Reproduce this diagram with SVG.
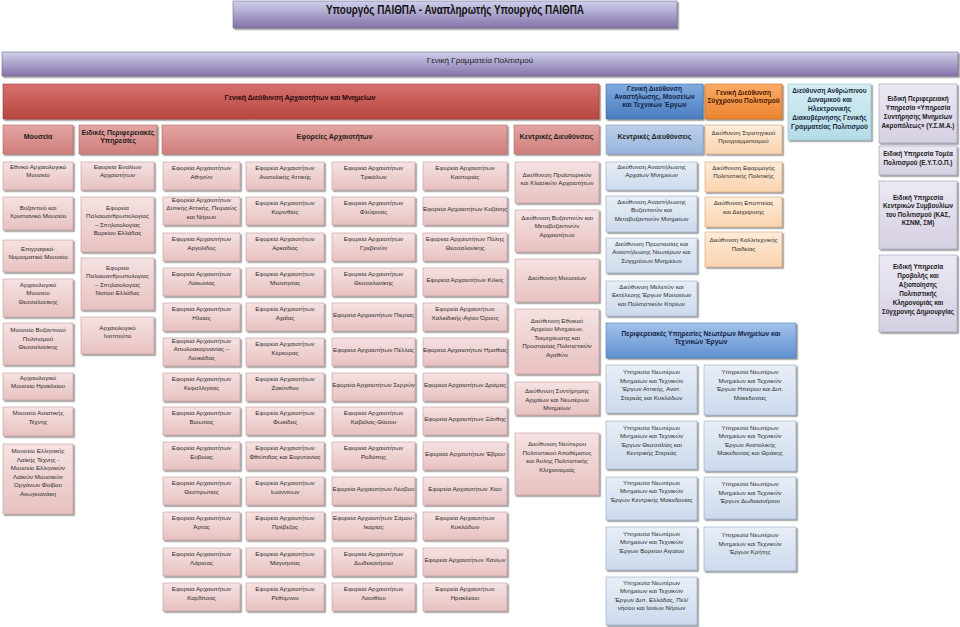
<svg xmlns="http://www.w3.org/2000/svg" width="960" height="627" viewBox="0 0 960 627">
<defs>
<linearGradient id="gPur" x1="0" y1="0" x2="0" y2="1"><stop offset="0" stop-color="#cfd1ec"/><stop offset="1" stop-color="#8572a9"/></linearGradient>
<linearGradient id="gRed" x1="0" y1="0" x2="0" y2="1"><stop offset="0" stop-color="#d6706d"/><stop offset="1" stop-color="#b8463f"/></linearGradient>
<linearGradient id="gRedH" x1="0" y1="0" x2="0" y2="1"><stop offset="0" stop-color="#e3a5a3"/><stop offset="1" stop-color="#cf7e7b"/></linearGradient>
<linearGradient id="gPink" x1="0" y1="0" x2="0" y2="1"><stop offset="0" stop-color="#f5e2e2"/><stop offset="1" stop-color="#e8c1c1"/></linearGradient>
<linearGradient id="gBlue" x1="0" y1="0" x2="0" y2="1"><stop offset="0" stop-color="#80abe0"/><stop offset="1" stop-color="#4a7dbf"/></linearGradient>
<linearGradient id="gBlueH" x1="0" y1="0" x2="0" y2="1"><stop offset="0" stop-color="#bcd0ea"/><stop offset="1" stop-color="#98b4dc"/></linearGradient>
<linearGradient id="gBlueL" x1="0" y1="0" x2="0" y2="1"><stop offset="0" stop-color="#e8eef7"/><stop offset="1" stop-color="#ccdaec"/></linearGradient>
<linearGradient id="gBlueP" x1="0" y1="0" x2="0" y2="1"><stop offset="0" stop-color="#a4c2e9"/><stop offset="1" stop-color="#5f90d0"/></linearGradient>
<linearGradient id="gOr" x1="0" y1="0" x2="0" y2="1"><stop offset="0" stop-color="#fbab66"/><stop offset="1" stop-color="#ec842f"/></linearGradient>
<linearGradient id="gOrL" x1="0" y1="0" x2="0" y2="1"><stop offset="0" stop-color="#feecd9"/><stop offset="1" stop-color="#fbd3ae"/></linearGradient>
<linearGradient id="gTeal" x1="0" y1="0" x2="0" y2="1"><stop offset="0" stop-color="#d5edf3"/><stop offset="1" stop-color="#b5dce6"/></linearGradient>
<linearGradient id="gLav" x1="0" y1="0" x2="0" y2="1"><stop offset="0" stop-color="#ece9f3"/><stop offset="1" stop-color="#d5cfe3"/></linearGradient>
<filter id="sh" x="-10%" y="-10%" width="130%" height="140%"><feDropShadow dx="1.5" dy="1.5" stdDeviation="0.7" flood-color="#000" flood-opacity="0.45"/></filter>
</defs>
<style>
text{font-family:"Liberation Sans",Arial,sans-serif;text-anchor:middle;fill:#2b2b2b}
.t{font-size:6.2px}
.h{font-size:7px;font-weight:bold;fill:#1e1e1e}
.hs{font-size:6.6px;font-weight:bold}
.hl{font-size:6.3px;font-weight:bold;fill:#222}
.bx{stroke-width:0.6;filter:url(#sh)}
.pur{fill:url(#gPur);stroke:#6e6e8e}
.red{fill:url(#gRed);stroke:#9a3b38}
.redh{fill:url(#gRedH);stroke:#b36a68}
.pk{fill:url(#gPink);stroke:#c49a9a}
.blu{fill:url(#gBlue);stroke:#3f6aa3}
.bluh{fill:url(#gBlueH);stroke:#7f9cc4}
.blul{fill:url(#gBlueL);stroke:#93a8c4}
.blup{fill:url(#gBlueP);stroke:#4d7bb8}
.or{fill:url(#gOr);stroke:#c86a20}
.orl{fill:url(#gOrL);stroke:#d0a67c}
.teal{fill:url(#gTeal);stroke:#8fbcc8}
.lav{fill:url(#gLav);stroke:#a29bb8}
.nv{fill:#14264a}
.br{fill:#4a1800}
</style>
<rect width="960" height="627" fill="#fff"/>

<g id="minister"><rect class="bx pur" x="233" y="1" width="444" height="27"/><text x="455" y="14" style="font-size:12px;font-weight:bold;fill:#111" textLength="258" lengthAdjust="spacingAndGlyphs">Υπουργός ΠΑΙΘΠΑ - Αναπληρωτής Υπουργός ΠΑΙΘΠΑ</text></g>
<g id="gen-sec"><rect class="bx pur" x="2" y="52" width="956" height="24"/><text x="480" y="63" style="font-size:8px;fill:#1a1a1a">Γενική Γραμματεία Πολιτισμού</text></g>

<g id="gd-arch"><rect class="bx red" x="3" y="84" width="596" height="35"/><text class="h" x="300" y="100" style="fill:#2a0a0a">Γενική Διεύθυνση Αρχαιοτήτων και Μνημείων</text></g>
<g id="gd-anast"><rect class="bx blu" x="606" y="84" width="97" height="35"/><text class="hs nv"><tspan x="654.5" y="90.5">Γενική Διεύθυνση</tspan><tspan x="654.5" y="98.5">Αναστήλωσης, Μουσείων</tspan><tspan x="654.5" y="106.5">και Τεχνικών Έργων</tspan></text></g>
<g id="gd-sygx"><rect class="bx or" x="705" y="84" width="77" height="35"/><text class="hs br"><tspan x="743.5" y="94.5">Γενική Διεύθυνση</tspan><tspan x="743.5" y="102.5">Σύγχρονου Πολιτισμού</tspan></text></g>
<g id="dir-hr"><rect class="bx teal" x="788" y="84" width="83" height="56"/><text class="hs" style="fill:#1c2c44"><tspan x="829.5" y="92.5">Διεύθυνση Ανθρώπινου</tspan><tspan x="829.5" y="101.5">Δυναμικού και</tspan><tspan x="829.5" y="110.5">Ηλεκτρονικής</tspan><tspan x="829.5" y="119.5">Διακυβέρνησης Γενικής</tspan><tspan x="829.5" y="128.5">Γραμματείας Πολιτισμού</tspan></text></g>
<g id="ysma"><rect class="bx lav" x="879" y="84" width="78" height="59"/><text class="hl"><tspan x="918" y="100.5">Ειδική Περιφερειακή</tspan><tspan x="918" y="109.5">Υπηρεσία «Υπηρεσία</tspan><tspan x="918" y="118.5">Συντήρησης Μνημείων</tspan><tspan x="918" y="127.5">Ακροπόλεως» (Υ.Σ.Μ.Α.)</tspan></text></g>

<g id="h-mouseia"><rect class="bx redh" x="3" y="125" width="70" height="29"/><text class="h" x="38" y="139">Μουσεία</text></g>
<g id="h-eidikes"><rect class="bx redh" x="79" y="125" width="78" height="29"/><text class="h"><tspan x="118" y="134.5">Ειδικές Περιφερειακές</tspan><tspan x="118" y="143">Υπηρεσίες</tspan></text></g>
<g id="h-eforeies"><rect class="bx redh" x="162" y="125" width="345" height="29"/><text class="h" x="334.5" y="139">Εφορείες Αρχαιοτήτων</text></g>
<g id="h-kentr-red"><rect class="bx redh" x="514" y="125" width="85" height="29"/><text class="h" x="556.5" y="139">Κεντρικές Διευθύνσεις</text></g>
<g id="h-kentr-blue"><rect class="bx bluh" x="606" y="125" width="97" height="29"/><text class="h" x="654.5" y="139">Κεντρικές Διευθύνσεις</text></g>
<g id="d-strat"><rect class="bx orl" x="705" y="125" width="77" height="29"/><text class="t"><tspan x="743.5" y="134.5">Διεύθυνση Στρατηγικού</tspan><tspan x="743.5" y="143">Προγραμματισμού</tspan></text></g>
<g id="eytop"><rect class="bx lav" x="879" y="146" width="78" height="29"/><text class="hl"><tspan x="918" y="155.5">Ειδική Υπηρεσία Τομέα</tspan><tspan x="918" y="165">Πολιτισμού (Ε.Υ.Τ.Ο.Π.)</tspan></text></g>
<g id="eyksp"><rect class="bx lav" x="879" y="181" width="78" height="68"/><text class="hl"><tspan x="918" y="199.5">Ειδική Υπηρεσία</tspan><tspan x="918" y="208">Κεντρικών Συμβουλίων</tspan><tspan x="918" y="216.5">του Πολιτισμού (ΚΑΣ,</tspan><tspan x="918" y="225">ΚΣΝΜ, ΣΜ)</tspan></text></g>
<g id="eyprov"><rect class="bx lav" x="879" y="255" width="78" height="77"/><text class="hl"><tspan x="918" y="268.5">Ειδική Υπηρεσία</tspan><tspan x="918" y="277.5">Προβολής και</tspan><tspan x="918" y="286.5">Αξιοποίησης</tspan><tspan x="918" y="295.5">Πολιτιστικής</tspan><tspan x="918" y="304.5">Κληρονομιάς και</tspan><tspan x="918" y="313.5">Σύγχρονης Δημιουργίας</tspan></text></g>

<!-- Museums -->
<g id="m1"><rect class="bx pk" x="3" y="162" width="70" height="28"/><text class="t"><tspan x="38" y="168.5">Εθνικό Αρχαιολογικό</tspan><tspan x="38" y="177">Μουσείο</tspan></text></g>
<g id="m2"><rect class="bx pk" x="3" y="197" width="70" height="33"/><text class="t"><tspan x="38" y="209.5">Βυζαντινό και</tspan><tspan x="38" y="218">Χριστιανικό Μουσείο</tspan></text></g>
<g id="m3"><rect class="bx pk" x="3" y="240" width="70" height="32"/><text class="t"><tspan x="38" y="250.5">Επιγραφικό-</tspan><tspan x="38" y="259">Νομισματικό Μουσείο</tspan></text></g>
<g id="m4"><rect class="bx pk" x="3" y="279" width="70" height="38"/><text class="t"><tspan x="38" y="286.5">Αρχαιολογικό</tspan><tspan x="38" y="295">Μουσείο</tspan><tspan x="38" y="303.5">Θεσσαλονίκης</tspan></text></g>
<g id="m5"><rect class="bx pk" x="3" y="323" width="70" height="42"/><text class="t"><tspan x="38" y="332">Μουσείο Βυζαντινού</tspan><tspan x="38" y="340.5">Πολιτισμού</tspan><tspan x="38" y="349">Θεσσαλονίκης</tspan></text></g>
<g id="m6"><rect class="bx pk" x="3" y="373" width="70" height="27"/><text class="t"><tspan x="38" y="379.5">Αρχαιολογικό</tspan><tspan x="38" y="388">Μουσείο Ηρακλείου</tspan></text></g>
<g id="m7"><rect class="bx pk" x="3" y="407" width="70" height="29"/><text class="t"><tspan x="38" y="415">Μουσείο Ασιατικής</tspan><tspan x="38" y="423.5">Τέχνης</tspan></text></g>
<g id="m8"><rect class="bx pk" x="3" y="444" width="70" height="70"/><text class="t"><tspan x="38" y="453">Μουσείο Ελληνικής</tspan><tspan x="38" y="461.5">Λαϊκής Τέχνης -</tspan><tspan x="38" y="470">Μουσείο Ελληνικών</tspan><tspan x="38" y="478.5">Λαϊκών Μουσικών</tspan><tspan x="38" y="487">Οργάνων Φοίβου</tspan><tspan x="38" y="495.5">Ανωγειανάκη</tspan></text></g>

<!-- Special regional services -->
<g id="s1"><rect class="bx pk" x="81" y="162" width="73" height="28"/><text class="t"><tspan x="117.5" y="168.5">Εφορεία Εναλίων</tspan><tspan x="117.5" y="177">Αρχαιοτήτων</tspan></text></g>
<g id="s2"><rect class="bx pk" x="81" y="197" width="73" height="55"/><text class="t"><tspan x="117.5" y="209.5">Εφορεία</tspan><tspan x="117.5" y="218">Παλαιοανθρωπολογίας</tspan><tspan x="117.5" y="226.5">– Σπηλαιολογίας</tspan><tspan x="117.5" y="235">Βορείου Ελλάδας</tspan></text></g>
<g id="s3"><rect class="bx pk" x="81" y="258" width="73" height="52"/><text class="t"><tspan x="117.5" y="269.5">Εφορεία</tspan><tspan x="117.5" y="278">Παλαιοανθρωπολογίας</tspan><tspan x="117.5" y="286.5">– Σπηλαιολογίας</tspan><tspan x="117.5" y="295">Νοτίου Ελλάδας</tspan></text></g>
<g id="s4"><rect class="bx pk" x="81" y="317" width="73" height="37"/><text class="t"><tspan x="117.5" y="329.5">Αρχαιολογικό</tspan><tspan x="117.5" y="338">Ινστιτούτο</tspan></text></g>

<!-- Ephorates column 1 -->
<g id="e-ath"><rect class="bx pk" x="163" y="162" width="77" height="28"/><text class="t"><tspan x="201.5" y="170">Εφορεία Αρχαιοτήτων</tspan><tspan x="201.5" y="178.5">Αθηνών</tspan></text></g>
<g id="e-dyt-att"><rect class="bx pk" x="163" y="197" width="77" height="28"/><text class="t"><tspan x="201.5" y="201.5">Εφορεία Αρχαιοτήτων</tspan><tspan x="201.5" y="210">Δυτικής Αττικής, Πειραιώς</tspan><tspan x="201.5" y="218.5">και Νήσων</tspan></text></g>
<g id="e-arg"><rect class="bx pk" x="163" y="233" width="77" height="28"/><text class="t"><tspan x="201.5" y="241">Εφορεία Αρχαιοτήτων</tspan><tspan x="201.5" y="249.5">Αργολίδος</tspan></text></g>
<g id="e-lak"><rect class="bx pk" x="163" y="268" width="77" height="28"/><text class="t"><tspan x="201.5" y="276">Εφορεία Αρχαιοτήτων</tspan><tspan x="201.5" y="284.5">Λακωνίας</tspan></text></g>
<g id="e-ilei"><rect class="bx pk" x="163" y="303" width="77" height="28"/><text class="t"><tspan x="201.5" y="311">Εφορεία Αρχαιοτήτων</tspan><tspan x="201.5" y="319.5">Ηλείας</tspan></text></g>
<g id="e-ait"><rect class="bx pk" x="163" y="338" width="77" height="28"/><text class="t"><tspan x="201.5" y="342.5">Εφορεία Αρχαιοτήτων</tspan><tspan x="201.5" y="351">Αιτωλοακαρνανίας –</tspan><tspan x="201.5" y="359.5">Λευκάδας</tspan></text></g>
<g id="e-kef"><rect class="bx pk" x="163" y="373" width="77" height="28"/><text class="t"><tspan x="201.5" y="381">Εφορεία Αρχαιοτήτων</tspan><tspan x="201.5" y="389.5">Κεφαλληνίας</tspan></text></g>
<g id="e-voi"><rect class="bx pk" x="163" y="407" width="77" height="28"/><text class="t"><tspan x="201.5" y="415">Εφορεία Αρχαιοτήτων</tspan><tspan x="201.5" y="423.5">Βοιωτίας</tspan></text></g>
<g id="e-evv"><rect class="bx pk" x="163" y="442" width="77" height="28"/><text class="t"><tspan x="201.5" y="450">Εφορεία Αρχαιοτήτων</tspan><tspan x="201.5" y="458.5">Ευβοίας</tspan></text></g>
<g id="e-thes"><rect class="bx pk" x="163" y="477" width="77" height="28"/><text class="t"><tspan x="201.5" y="485">Εφορεία Αρχαιοτήτων</tspan><tspan x="201.5" y="493.5">Θεσπρωτίας</tspan></text></g>
<g id="e-art"><rect class="bx pk" x="163" y="512" width="77" height="28"/><text class="t"><tspan x="201.5" y="520">Εφορεία Αρχαιοτήτων</tspan><tspan x="201.5" y="528.5">Άρτας</tspan></text></g>
<g id="e-lar"><rect class="bx pk" x="163" y="548" width="77" height="28"/><text class="t"><tspan x="201.5" y="556">Εφορεία Αρχαιοτήτων</tspan><tspan x="201.5" y="564.5">Λάρισας</tspan></text></g>
<g id="e-kar"><rect class="bx pk" x="163" y="583" width="77" height="28"/><text class="t"><tspan x="201.5" y="591">Εφορεία Αρχαιοτήτων</tspan><tspan x="201.5" y="599.5">Καρδίτσας</tspan></text></g>

<!-- Ephorates column 2 -->
<g id="e-anat-att"><rect class="bx pk" x="246" y="162" width="78" height="28"/><text class="t"><tspan x="285" y="170">Εφορεία Αρχαιοτήτων</tspan><tspan x="285" y="178.5">Ανατολικής Αττικής</tspan></text></g>
<g id="e-kor"><rect class="bx pk" x="246" y="197" width="78" height="28"/><text class="t"><tspan x="285" y="205">Εφορεία Αρχαιοτήτων</tspan><tspan x="285" y="213.5">Κορινθίας</tspan></text></g>
<g id="e-ark"><rect class="bx pk" x="246" y="233" width="78" height="28"/><text class="t"><tspan x="285" y="241">Εφορεία Αρχαιοτήτων</tspan><tspan x="285" y="249.5">Αρκαδίας</tspan></text></g>
<g id="e-mes"><rect class="bx pk" x="246" y="268" width="78" height="28"/><text class="t"><tspan x="285" y="276">Εφορεία Αρχαιοτήτων</tspan><tspan x="285" y="284.5">Μεσσηνίας</tspan></text></g>
<g id="e-ach"><rect class="bx pk" x="246" y="303" width="78" height="28"/><text class="t"><tspan x="285" y="311">Εφορεία Αρχαιοτήτων</tspan><tspan x="285" y="319.5">Αχαΐας</tspan></text></g>
<g id="e-ker"><rect class="bx pk" x="246" y="338" width="78" height="28"/><text class="t"><tspan x="285" y="346">Εφορεία Αρχαιοτήτων</tspan><tspan x="285" y="354.5">Κέρκυρας</tspan></text></g>
<g id="e-zak"><rect class="bx pk" x="246" y="373" width="78" height="28"/><text class="t"><tspan x="285" y="381">Εφορεία Αρχαιοτήτων</tspan><tspan x="285" y="389.5">Ζακύνθου</tspan></text></g>
<g id="e-fok"><rect class="bx pk" x="246" y="407" width="78" height="28"/><text class="t"><tspan x="285" y="415">Εφορεία Αρχαιοτήτων</tspan><tspan x="285" y="423.5">Φωκίδας</tspan></text></g>
<g id="e-fth"><rect class="bx pk" x="246" y="442" width="78" height="28"/><text class="t"><tspan x="285" y="450">Εφορεία Αρχαιοτήτων</tspan><tspan x="285" y="458.5">Φθιώτιδας και Ευρυτανίας</tspan></text></g>
<g id="e-ioa"><rect class="bx pk" x="246" y="477" width="78" height="28"/><text class="t"><tspan x="285" y="485">Εφορεία Αρχαιοτήτων</tspan><tspan x="285" y="493.5">Ιωαννίνων</tspan></text></g>
<g id="e-pre"><rect class="bx pk" x="246" y="512" width="78" height="28"/><text class="t"><tspan x="285" y="520">Εφορεία Αρχαιοτήτων</tspan><tspan x="285" y="528.5">Πρέβεζας</tspan></text></g>
<g id="e-mag"><rect class="bx pk" x="246" y="548" width="78" height="28"/><text class="t"><tspan x="285" y="556">Εφορεία Αρχαιοτήτων</tspan><tspan x="285" y="564.5">Μαγνησίας</tspan></text></g>
<g id="e-ret"><rect class="bx pk" x="246" y="583" width="78" height="28"/><text class="t"><tspan x="285" y="591">Εφορεία Αρχαιοτήτων</tspan><tspan x="285" y="599.5">Ρεθύμνου</tspan></text></g>

<!-- Ephorates column 3 -->
<g id="e-trik"><rect class="bx pk" x="332" y="162" width="83" height="28"/><text class="t"><tspan x="373.5" y="170">Εφορεία Αρχαιοτήτων</tspan><tspan x="373.5" y="178.5">Τρικάλων</tspan></text></g>
<g id="e-flo"><rect class="bx pk" x="332" y="197" width="83" height="28"/><text class="t"><tspan x="373.5" y="205">Εφορεία Αρχαιοτήτων</tspan><tspan x="373.5" y="213.5">Φλώρινας</tspan></text></g>
<g id="e-gre"><rect class="bx pk" x="332" y="233" width="83" height="28"/><text class="t"><tspan x="373.5" y="241">Εφορεία Αρχαιοτήτων</tspan><tspan x="373.5" y="249.5">Γρεβενών</tspan></text></g>
<g id="e-thess"><rect class="bx pk" x="332" y="268" width="83" height="28"/><text class="t"><tspan x="373.5" y="276">Εφορεία Αρχαιοτήτων</tspan><tspan x="373.5" y="284.5">Θεσσαλονίκης</tspan></text></g>
<g id="e-pie"><rect class="bx pk" x="332" y="303" width="83" height="28"/><text class="t" x="373.5" y="316.5">Εφορεία Αρχαιοτήτων Πιερίας</text></g>
<g id="e-pel"><rect class="bx pk" x="332" y="338" width="83" height="28"/><text class="t" x="373.5" y="351.5">Εφορεία Αρχαιοτήτων Πέλλας</text></g>
<g id="e-ser"><rect class="bx pk" x="332" y="373" width="83" height="28"/><text class="t" x="373.5" y="386.5">Εφορεία Αρχαιοτήτων Σερρών</text></g>
<g id="e-kav"><rect class="bx pk" x="332" y="407" width="83" height="28"/><text class="t"><tspan x="373.5" y="415">Εφορεία Αρχαιοτήτων</tspan><tspan x="373.5" y="423.5">Καβάλας-Θάσου</tspan></text></g>
<g id="e-rod"><rect class="bx pk" x="332" y="442" width="83" height="28"/><text class="t"><tspan x="373.5" y="450">Εφορεία Αρχαιοτήτων</tspan><tspan x="373.5" y="458.5">Ροδόπης</tspan></text></g>
<g id="e-les"><rect class="bx pk" x="332" y="477" width="83" height="28"/><text class="t" x="373.5" y="490.5">Εφορεία Αρχαιοτήτων Λέσβου</text></g>
<g id="e-sam"><rect class="bx pk" x="332" y="512" width="83" height="28"/><text class="t"><tspan x="373.5" y="520">Εφορεία Αρχαιοτήτων Σάμου-</tspan><tspan x="373.5" y="528.5">Ικαρίας</tspan></text></g>
<g id="e-dod"><rect class="bx pk" x="332" y="548" width="83" height="28"/><text class="t"><tspan x="373.5" y="556">Εφορεία Αρχαιοτήτων</tspan><tspan x="373.5" y="564.5">Δωδεκανήσου</tspan></text></g>
<g id="e-las"><rect class="bx pk" x="332" y="583" width="83" height="28"/><text class="t"><tspan x="373.5" y="591">Εφορεία Αρχαιοτήτων</tspan><tspan x="373.5" y="599.5">Λασιθίου</tspan></text></g>

<!-- Ephorates column 4 -->
<g id="e-kas"><rect class="bx pk" x="423" y="162" width="84" height="28"/><text class="t"><tspan x="465" y="170">Εφορεία Αρχαιοτήτων</tspan><tspan x="465" y="178.5">Καστοριάς</tspan></text></g>
<g id="e-koz"><rect class="bx pk" x="423" y="197" width="84" height="28"/><text class="t" x="465" y="210.5">Εφορεία Αρχαιοτήτων Κοζάνης</text></g>
<g id="e-pol-thes"><rect class="bx pk" x="423" y="233" width="84" height="28"/><text class="t"><tspan x="465" y="241">Εφορεία Αρχαιοτήτων Πόλης</tspan><tspan x="465" y="249.5">Θεσσαλονίκης</tspan></text></g>
<g id="e-kil"><rect class="bx pk" x="423" y="268" width="84" height="28"/><text class="t" x="465" y="281.5">Εφορεία Αρχαιοτήτων Κιλκίς</text></g>
<g id="e-chal"><rect class="bx pk" x="423" y="303" width="84" height="28"/><text class="t"><tspan x="465" y="311">Εφορεία Αρχαιοτήτων</tspan><tspan x="465" y="319.5">Χαλκιδικής-Αγίου Όρους</tspan></text></g>
<g id="e-ima"><rect class="bx pk" x="423" y="338" width="84" height="28"/><text class="t" x="465" y="351.5">Εφορεία Αρχαιοτήτων Ημαθίας</text></g>
<g id="e-dra"><rect class="bx pk" x="423" y="373" width="84" height="28"/><text class="t" x="465" y="386.5">Εφορεία Αρχαιοτήτων Δράμας</text></g>
<g id="e-xan"><rect class="bx pk" x="423" y="407" width="84" height="28"/><text class="t" x="465" y="420.5">Εφορεία Αρχαιοτήτων Ξάνθης</text></g>
<g id="e-evr"><rect class="bx pk" x="423" y="442" width="84" height="28"/><text class="t" x="465" y="455.5">Εφορεία Αρχαιοτήτων Έβρου</text></g>
<g id="e-chi"><rect class="bx pk" x="423" y="477" width="84" height="28"/><text class="t" x="465" y="490.5">Εφορεία Αρχαιοτήτων Χίου</text></g>
<g id="e-kyk"><rect class="bx pk" x="423" y="512" width="84" height="28"/><text class="t"><tspan x="465" y="520">Εφορεία Αρχαιοτήτων</tspan><tspan x="465" y="528.5">Κυκλάδων</tspan></text></g>
<g id="e-cha"><rect class="bx pk" x="423" y="548" width="84" height="28"/><text class="t" x="465" y="561.5">Εφορεία Αρχαιοτήτων Χανίων</text></g>
<g id="e-ira"><rect class="bx pk" x="423" y="583" width="84" height="28"/><text class="t"><tspan x="465" y="591">Εφορεία Αρχαιοτήτων</tspan><tspan x="465" y="599.5">Ηρακλείου</tspan></text></g>

<!-- Central directorates (antiquities) -->
<g id="k-proist"><rect class="bx pk" x="515" y="162" width="84" height="41"/><text class="t"><tspan x="557" y="176.5">Διεύθυνση Προϊστορικών</tspan><tspan x="557" y="185">και Κλασικών Αρχαιοτήτων</tspan></text></g>
<g id="k-byz"><rect class="bx pk" x="515" y="210" width="84" height="42"/><text class="t"><tspan x="557" y="219.5">Διεύθυνση Βυζαντινών και</tspan><tspan x="557" y="228">Μεταβυζαντινών</tspan><tspan x="557" y="236.5">Αρχαιοτήτων</tspan></text></g>
<g id="k-mous"><rect class="bx pk" x="515" y="259" width="84" height="43"/><text class="t" x="557" y="279.5">Διεύθυνση Μουσείων</text></g>
<g id="k-arch"><rect class="bx pk" x="515" y="309" width="84" height="65"/><text class="t"><tspan x="557" y="322.5">Διεύθυνση Εθνικού</tspan><tspan x="557" y="331">Αρχείου Μνημείων,</tspan><tspan x="557" y="339.5">Τεκμηρίωσης και</tspan><tspan x="557" y="348">Προστασίας Πολιτιστικών</tspan><tspan x="557" y="356.5">Αγαθών</tspan></text></g>
<g id="k-synt"><rect class="bx pk" x="515" y="382" width="84" height="33"/><text class="t"><tspan x="557" y="393">Διεύθυνση Συντήρησης</tspan><tspan x="557" y="401.5">Αρχαίων και Νεωτέρων</tspan><tspan x="557" y="410">Μνημείων</tspan></text></g>
<g id="k-neot"><rect class="bx pk" x="515" y="433" width="84" height="62"/><text class="t"><tspan x="557" y="446">Διεύθυνση Νεώτερου</tspan><tspan x="557" y="454.5">Πολιτιστικού Αποθέματος</tspan><tspan x="557" y="463">και Άυλης Πολιτιστικής</tspan><tspan x="557" y="471.5">Κληρονομιάς</tspan></text></g>

<!-- Central directorates (restoration) -->
<g id="b-arx"><rect class="bx blul" x="606" y="162" width="91" height="28"/><text class="t"><tspan x="651.5" y="168.5">Διεύθυνση Αναστήλωσης</tspan><tspan x="651.5" y="177">Αρχαίων Μνημείων</tspan></text></g>
<g id="b-byz"><rect class="bx blul" x="606" y="196" width="91" height="36"/><text class="t"><tspan x="651.5" y="203.5">Διεύθυνση Αναστήλωσης</tspan><tspan x="651.5" y="212">Βυζαντινών και</tspan><tspan x="651.5" y="220.5">Μεταβυζαντινών Μνημείων</tspan></text></g>
<g id="b-prost"><rect class="bx blul" x="606" y="238" width="91" height="35"/><text class="t"><tspan x="651.5" y="245.5">Διεύθυνση Προστασίας και</tspan><tspan x="651.5" y="254">Αναστήλωσης Νεωτέρων και</tspan><tspan x="651.5" y="262.5">Συγχρόνων Μνημείων</tspan></text></g>
<g id="b-melet"><rect class="bx blul" x="606" y="281" width="91" height="35"/><text class="t"><tspan x="651.5" y="288.5">Διεύθυνση Μελετών και</tspan><tspan x="651.5" y="297">Εκτέλεσης Έργων Μουσείων</tspan><tspan x="651.5" y="305.5">και Πολιτιστικών Κτιρίων</tspan></text></g>
<g id="b-perif"><rect class="bx blup" x="606" y="323" width="190" height="35"/><text class="hs nv"><tspan x="701" y="335.5">Περιφερειακές Υπηρεσίες Νεωτέρων Μνημείων και</tspan><tspan x="701" y="344">Τεχνικών Έργων</tspan></text></g>

<g id="y-att"><rect class="bx blul" x="606" y="365" width="91" height="48"/><text class="t"><tspan x="651.5" y="374">Υπηρεσία Νεωτέρων</tspan><tspan x="651.5" y="382.5">Μνημείων και Τεχνικών</tspan><tspan x="651.5" y="391">Έργων Αττικής, Ανατ.</tspan><tspan x="651.5" y="399.5">Στερεάς και Κυκλάδων</tspan></text></g>
<g id="y-thes"><rect class="bx blul" x="606" y="421" width="91" height="48"/><text class="t"><tspan x="651.5" y="429.5">Υπηρεσία Νεωτέρων</tspan><tspan x="651.5" y="438">Μνημείων και Τεχνικών</tspan><tspan x="651.5" y="446.5">Έργων Θεσσαλίας και</tspan><tspan x="651.5" y="455">Κεντρικής Στερεάς</tspan></text></g>
<g id="y-kmak"><rect class="bx blul" x="606" y="477" width="91" height="43"/><text class="t"><tspan x="651.5" y="484.5">Υπηρεσία Νεωτέρων</tspan><tspan x="651.5" y="493">Μνημείων και Τεχνικών</tspan><tspan x="651.5" y="501.5">Έργων Κεντρικής Μακεδονίας</tspan></text></g>
<g id="y-baig"><rect class="bx blul" x="606" y="527" width="91" height="43"/><text class="t"><tspan x="651.5" y="535.5">Υπηρεσία Νεωτέρων</tspan><tspan x="651.5" y="544">Μνημείων και Τεχνικών</tspan><tspan x="651.5" y="552.5">Έργων Βορείου Αιγαίου</tspan></text></g>
<g id="y-dell"><rect class="bx blul" x="606" y="577" width="91" height="48"/><text class="t"><tspan x="651.5" y="584.5">Υπηρεσία Νεωτέρων</tspan><tspan x="651.5" y="593">Μνημείων και Τεχνικών</tspan><tspan x="651.5" y="601.5">Έργων Δυτ. Ελλάδας, Πελ/</tspan><tspan x="651.5" y="610">νήσου και Ιονίων Νήσων</tspan></text></g>

<g id="y-ipe"><rect class="bx blul" x="704" y="365" width="92" height="50"/><text class="t"><tspan x="750" y="374">Υπηρεσία Νεωτέρων</tspan><tspan x="750" y="382.5">Μνημείων και Τεχνικών</tspan><tspan x="750" y="391">Έργων Ηπείρου και Δυτ.</tspan><tspan x="750" y="399.5">Μακεδονίας</tspan></text></g>
<g id="y-amth"><rect class="bx blul" x="704" y="421" width="92" height="50"/><text class="t"><tspan x="750" y="429.5">Υπηρεσία Νεωτέρων</tspan><tspan x="750" y="438">Μνημείων και Τεχνικών</tspan><tspan x="750" y="446.5">Έργων Ανατολικής</tspan><tspan x="750" y="455">Μακεδονίας και Θράκης</tspan></text></g>
<g id="y-dod"><rect class="bx blul" x="704" y="477" width="92" height="42"/><text class="t"><tspan x="750" y="486">Υπηρεσία Νεωτέρων</tspan><tspan x="750" y="494.5">Μνημείων και Τεχνικών</tspan><tspan x="750" y="503">Έργων Δωδεκανήσου</tspan></text></g>
<g id="y-kri"><rect class="bx blul" x="704" y="527" width="92" height="44"/><text class="t"><tspan x="750" y="537">Υπηρεσία Νεωτέρων</tspan><tspan x="750" y="545.5">Μνημείων και Τεχνικών</tspan><tspan x="750" y="554">Έργων Κρήτης</tspan></text></g>

<!-- Contemporary culture directorates -->
<g id="o-efar"><rect class="bx orl" x="705" y="162" width="77" height="30"/><text class="t"><tspan x="743.5" y="169.5">Διεύθυνση Εφαρμογής</tspan><tspan x="743.5" y="178">Πολιτιστικής Πολιτικής</tspan></text></g>
<g id="o-epop"><rect class="bx orl" x="705" y="197" width="77" height="30"/><text class="t"><tspan x="743.5" y="205">Διεύθυνση Εποπτείας</tspan><tspan x="743.5" y="213.5">και Διαχείρισης</tspan></text></g>
<g id="o-kall"><rect class="bx orl" x="705" y="232" width="77" height="35"/><text class="t"><tspan x="743.5" y="242">Διεύθυνση Καλλιτεχνικής</tspan><tspan x="743.5" y="250.5">Παιδείας</tspan></text></g>

<g id="connectors"></g>
</svg>
